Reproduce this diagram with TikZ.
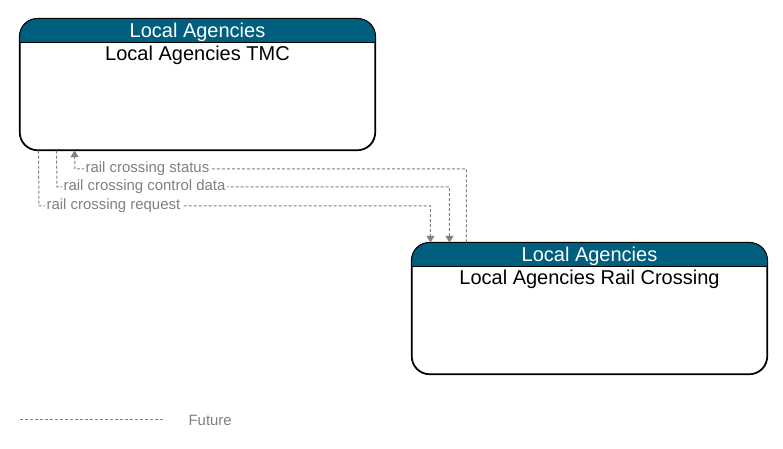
\documentclass[tikz,border=0pt]{standalone}
\usepackage{fontspec}
\setmainfont{Liberation Sans}
\usetikzlibrary{positioning,arrows.meta}
\definecolor{hdrblue}{RGB}{0,95,127}
\definecolor{flowgray}{RGB}{128,128,128}
\begin{document}
\begin{tikzpicture}[x=0.75pt,y=-0.75pt,
        box/.style={draw=black, line width=0.8pt, rounded corners=13.5pt,
            minimum width=266.25pt, minimum height=98.25pt, inner sep=0pt},
        hdr/.style={text=white, font=\fontsize{15}{18}\selectfont, inner sep=0pt},
        ttl/.style={text=black, font=\fontsize{15}{18}\selectfont, inner sep=0pt},
        flow/.style={draw=flowgray, dash pattern=on 2.25pt off 1.5pt, line width=0.75pt},
        flowarrow/.style={flow, -{Triangle[length=5pt,width=6pt]}},
        lbl/.style={fill=white, text=flowgray, font=\fontsize{11.2}{13}\selectfont,
            inner sep=1pt, anchor=west}]
        \useasboundingbox (0,0) rectangle (783,449);
        \node[box] (tmc) at (197.5,84.5) {};
        \node[box] (rc) at (589.5,308.5) {};
        \foreach \n/\t in {tmc/Local Agencies TMC,rc/Local Agencies Rail Crossing} {
            \scope
                \clip[rounded corners=13.5pt] (\n.north west) rectangle (\n.south east);
                \fill[hdrblue] (\n.north west) rectangle ([yshift=-18pt]\n.north east);
            \endscope
            \draw[line width=0.8pt] ([yshift=-18pt]\n.north west) -- ([yshift=-18pt]\n.north east);
            \draw[line width=0.8pt, rounded corners=13.5pt] (\n.north west) rectangle (\n.south east);
            \node[hdr] (\n hdr) at ([yshift=-10.5pt]\n.north) {Local Agencies};
            \node[ttl] (\n name) at ([yshift=-27.75pt]\n.north) {\t};
        }
        % flows
        \coordinate (status) at (75,169);
        \coordinate (ctrl) at (57,187);
        \coordinate (req) at (39,206);
        \draw[flowarrow] ([xshift=41.25pt]rc.north west) |- (status) -- ([xshift=41.25pt]tmc.south west);
        \draw[flowarrow] ([xshift=27.75pt]tmc.south west) -- (ctrl) -| ([xshift=28.5pt]rc.north west);
        \draw[flowarrow] ([xshift=14.25pt]tmc.south west) -- (req) -| ([xshift=14.25pt]rc.north west);
        \node[lbl] (statuslbl) at ([xshift=6.75pt]status) {rail crossing status};
        \node[lbl] (ctrllbl) at ([xshift=3.75pt]ctrl) {rail crossing control data};
        \node[lbl] (reqlbl) at ([xshift=4.5pt]req) {rail crossing request};
        % legend
        \coordinate (leg1) at (20,420);
        \coordinate (leg2) at (165,420);
        \draw[flow] (leg1) -- (leg2);
        \node[lbl, fill=none] (future) at (187,420) {Future};
\end{tikzpicture}
\end{document}
